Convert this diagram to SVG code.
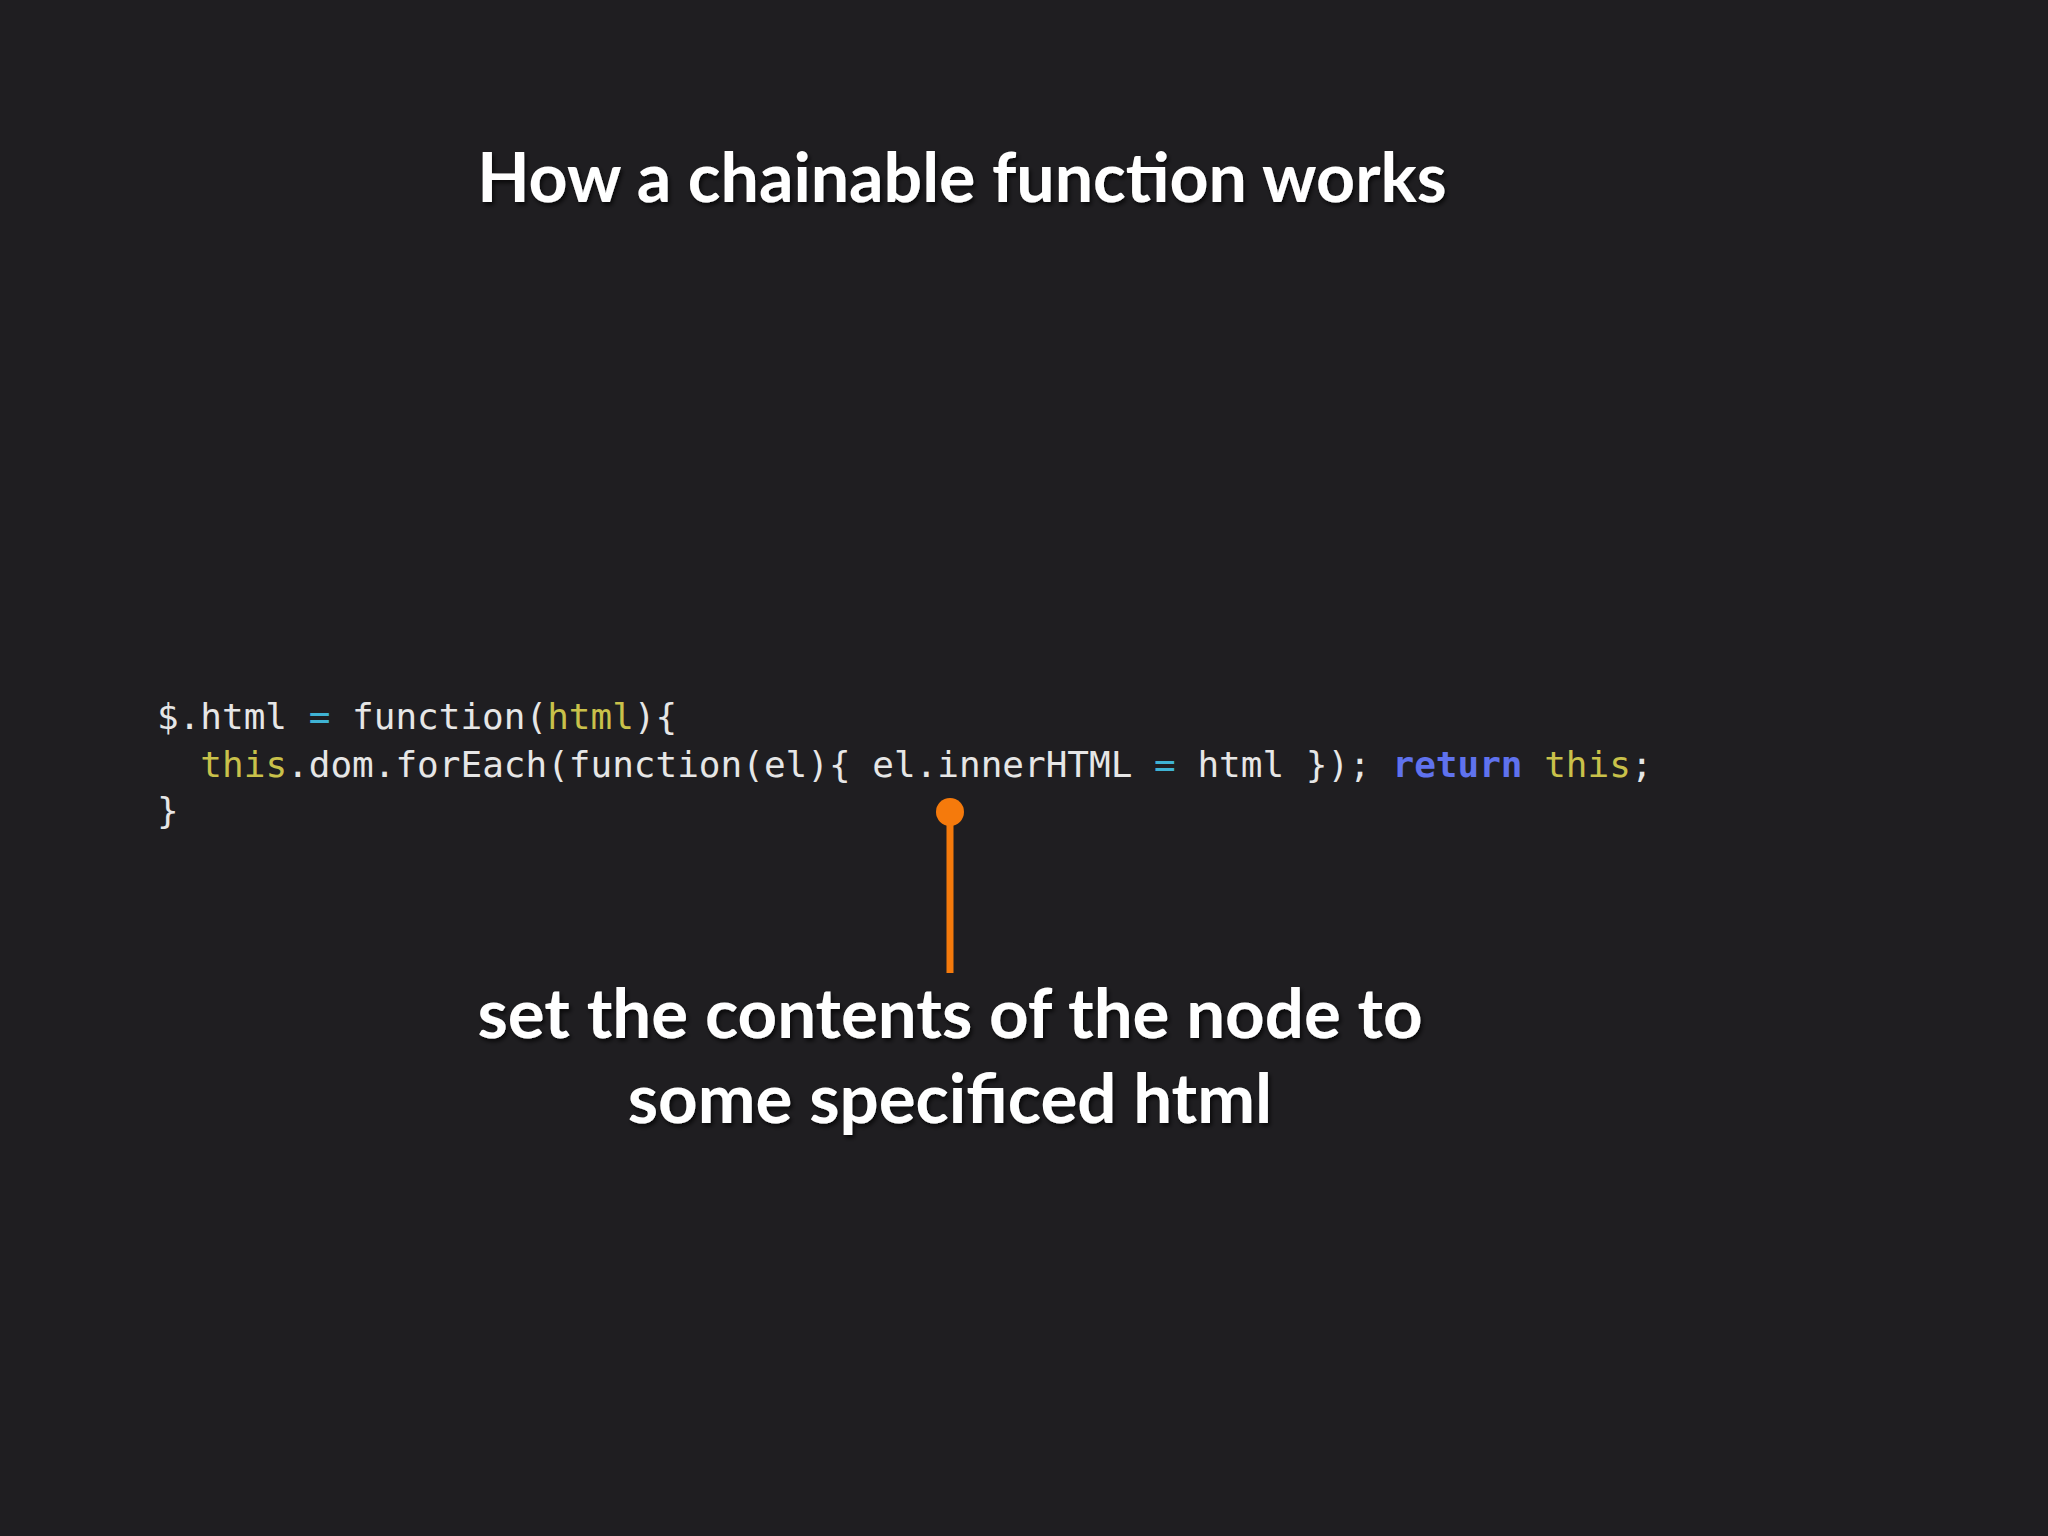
<svg xmlns="http://www.w3.org/2000/svg" width="2048" height="1536" viewBox="0 0 2048 1536">
<defs>
<style>
.h{font-family:Lato,"Open Sans",sans-serif;font-weight:700;fill:#ffffff;text-anchor:middle}
.c{font-family:"DejaVu Sans Mono","Liberation Mono",monospace;font-size:36px;fill:#e6e6e6;white-space:pre}
.y{fill:#c9c14a}.o{fill:#3fb3d4}.k{fill:#5f72ee;font-weight:700}
</style>
<filter id="s" x="-5%" y="-20%" width="110%" height="140%"><feDropShadow dx="2" dy="3" stdDeviation="2" flood-color="#000" flood-opacity="0.7"/></filter>
</defs>
<rect width="2048" height="1536" fill="#1f1e21"/>
<g id="title"><text class="h" x="962" y="202" font-size="68" filter="url(#s)">How a chainable function works</text></g>
<g id="code">
<text class="c" x="157" y="729" xml:space="preserve">$.html <tspan class="o">=</tspan> function(<tspan class="y">html</tspan>){</text>
<text class="c" x="157" y="777" xml:space="preserve">  <tspan class="y">this</tspan>.dom.forEach(function(el){ el.innerHTML <tspan class="o">=</tspan> html }); <tspan class="k">return</tspan> <tspan class="y">this</tspan>;</text>
<text class="c" x="157" y="823" xml:space="preserve">}</text>
</g>
<g id="connectors">
<line x1="950" y1="812" x2="950" y2="973" stroke="#f57a0c" stroke-width="7"/>
<circle cx="950" cy="812" r="14" fill="#f57a0c"/>
</g>
<g id="label">
<text class="h" x="950" y="1038" font-size="69" filter="url(#s)">set the contents of the node to</text>
<text class="h" x="950" y="1123" font-size="69" filter="url(#s)">some specificed html</text>
</g>
</svg>
